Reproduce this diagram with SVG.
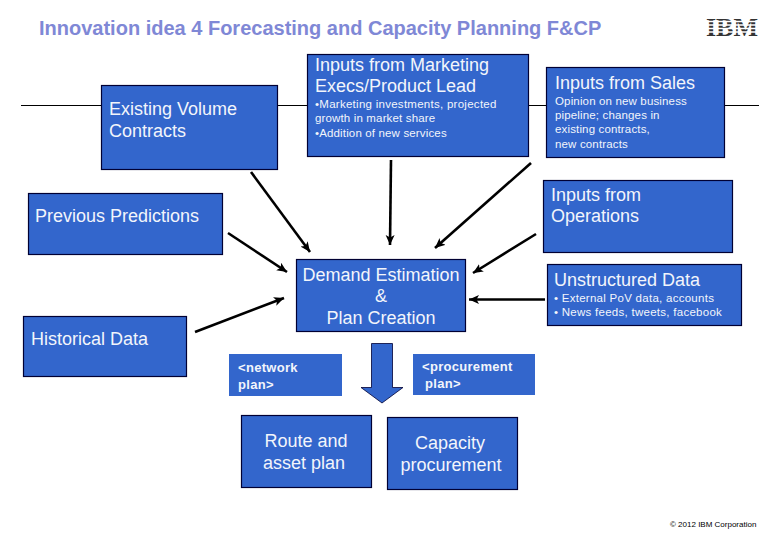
<svg xmlns="http://www.w3.org/2000/svg" width="780" height="540" viewBox="0 0 780 540">
<style>
text{font-family:"Liberation Sans",Arial,sans-serif;fill:#f2f5fb}
.b{fill:#3366cc;stroke:#000033;stroke-width:1.2}
.n{fill:#3366cc}
.h{font-size:18px}
.s{font-size:11.5px;letter-spacing:.15px}
.w{letter-spacing:.27px}
.p{font-size:13px;font-weight:bold;letter-spacing:.3px}
.c{text-anchor:middle}
.a{fill:none;stroke:#000;stroke-width:2.6;marker-end:url(#m)}
</style>
<defs>
<marker id="m" markerUnits="userSpaceOnUse" markerWidth="12" markerHeight="10" refX="10" refY="4.500" orient="auto"><path d="M0 0L10 4.500L0 9L2.500 4.500Z" fill="#000"/></marker>
</defs>
<rect width="780" height="540" fill="#fff"/>
<text id="title" x="39" y="35" font-weight="bold" style="fill:#7f88d6;font-size:20px">Innovation idea 4 Forecasting and Capacity Planning F&amp;CP</text>
<g id="ibm-logo">
<text x="706" y="36" font-size="25" font-weight="bold" textLength="52" lengthAdjust="spacingAndGlyphs" style="font-family:'Liberation Serif',serif;fill:#333">IBM</text>
<path d="M704 21.500H760M704 25H760M704 28.500H760M704 32H760" stroke="#fff" stroke-width="1.300"/>
</g>
<g id="connectors">
<path d="M21 105.500H759" stroke="#000" stroke-width="1"/>
<path class="a" d="M251 172L310 252"/>
<path class="a" d="M228 233L287 272"/>
<path class="a" d="M195 332L284 298"/>
<path class="a" d="M391 160L390 245"/>
<path class="a" d="M531 163L435 248"/>
<path class="a" d="M536 234L473 273"/>
<path class="a" d="M545 299.500H469"/>
</g>
<g id="existing-volume"><rect class="b" x="101.500" y="85.500" width="176" height="84"/>
<text class="h" x="109" y="115">Existing Volume</text><text class="h" x="109" y="137">Contracts</text></g>
<g id="inputs-marketing"><rect class="b" x="307.500" y="54.500" width="221" height="102"/>
<text class="h" x="315" y="71">Inputs from Marketing</text><text class="h" x="315" y="92">Execs/Product Lead</text>
<text class="s w" x="315" y="108">•Marketing investments, projected</text><text class="s" x="315" y="122">growth in market share</text><text class="s" x="315" y="137">•Addition of new services</text></g>
<g id="inputs-sales"><rect class="b" x="546.500" y="67.500" width="178" height="90"/>
<text class="h" x="555" y="89">Inputs from Sales</text>
<text class="s" x="555" y="105">Opinion on new business</text><text class="s" x="555" y="119">pipeline; changes in</text><text class="s" x="555" y="133">existing contracts,</text><text class="s" x="555" y="148">new contracts</text></g>
<g id="inputs-operations"><rect class="b" x="543.500" y="180.500" width="189" height="72"/>
<text class="h" x="551" y="201">Inputs from</text><text class="h" x="551" y="222">Operations</text></g>
<g id="previous-predictions"><rect class="b" x="28.500" y="193.500" width="194" height="61"/>
<text class="h" x="35" y="222">Previous Predictions</text></g>
<g id="demand-estimation"><rect class="b" x="296.500" y="259.500" width="169" height="72"/>
<text class="h c" x="381" y="281">Demand Estimation</text><text class="h c" x="381" y="302">&amp;</text><text class="h c" x="381" y="324">Plan Creation</text></g>
<g id="unstructured-data"><rect class="b" x="547.500" y="264.500" width="194" height="61"/>
<text class="h" x="554" y="286">Unstructured Data</text>
<text class="s w" x="554" y="302">• External PoV data, accounts</text><text class="s w" x="554" y="316">• News feeds, tweets, facebook</text></g>
<g id="historical-data"><rect class="b" x="23.500" y="316.500" width="163" height="60"/>
<text class="h" x="31" y="345">Historical Data</text></g>
<g id="network-plan"><rect class="n" x="229" y="354" width="113" height="42"/>
<text class="p" x="238" y="372">&lt;network</text><text class="p" x="238" y="389">plan&gt;</text></g>
<g id="procurement-plan"><rect class="n" x="413" y="354" width="122" height="41"/>
<text class="p" x="422" y="371">&lt;procurement</text><text class="p" x="425" y="388">plan&gt;</text></g>
<g id="down-arrow"><path d="M371.500 343.500H392.500V387.500H403L382 403L361 387.500H371.500Z" fill="#3366cc" stroke="#000033" stroke-width=".8"/></g>
<g id="route-asset-plan"><rect class="b" x="241.500" y="415.500" width="130" height="72"/>
<text class="h c" x="306" y="447">Route and</text><text class="h c" x="304" y="469">asset plan</text></g>
<g id="capacity-procurement"><rect class="b" x="387.500" y="417.500" width="130" height="72"/>
<text class="h c" x="450" y="449">Capacity</text><text class="h c" x="451" y="471">procurement</text></g>
<text id="copyright" x="670" y="527" font-size="8" style="fill:#000">© 2012 IBM Corporation</text>
</svg>
